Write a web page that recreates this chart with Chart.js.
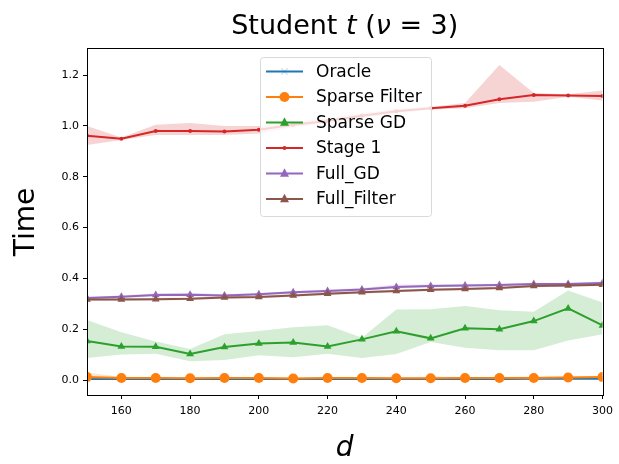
<!DOCTYPE html>
<html>
<head>
<meta charset="utf-8">
<script src="https://cdn.jsdelivr.net/npm/chart.js@4/dist/chart.umd.min.js"></script>
<style>
  html, body { margin: 0; padding: 0; background: #fff; }
  #wrap { width: 619px; height: 464px; }
</style>
</head>
<body>
<div id="wrap"><canvas id="timeChart" width="619" height="464"></canvas></div>
<script>
// x values (dimension d)
const dValues = [150, 160, 170, 180, 190, 200, 210, 220, 230, 240, 250, 260, 270, 280, 290, 300];
const xTicks = [160, 180, 200, 220, 240, 260, 280, 300];
const yTicks = [0.0, 0.2, 0.4, 0.6, 0.8, 1.0, 1.2];

// mean times and bands
const oracle   = [0.004, 0.004, 0.004, 0.004, 0.004, 0.004, 0.004, 0.004, 0.004, 0.004, 0.004, 0.004, 0.004, 0.005, 0.005, 0.005];
const oracleLo = [0.002, 0.002, 0.002, 0.002, 0.002, 0.002, 0.002, 0.002, 0.002, 0.002, 0.002, 0.002, 0.002, 0.003, 0.003, 0.003];
const oracleHi = [0.006, 0.006, 0.006, 0.006, 0.006, 0.006, 0.006, 0.006, 0.006, 0.006, 0.006, 0.006, 0.006, 0.007, 0.007, 0.007];

const sparseFilter   = [0.012, 0.008, 0.008, 0.007, 0.008, 0.008, 0.006, 0.008, 0.008, 0.007, 0.007, 0.008, 0.008, 0.008, 0.010, 0.012];
const sparseFilterLo = [0.004, 0.005, 0.005, 0.004, 0.005, 0.005, 0.004, 0.005, 0.005, 0.004, 0.004, 0.005, 0.005, 0.005, 0.006, 0.008];
const sparseFilterHi = [0.030, 0.012, 0.011, 0.010, 0.011, 0.011, 0.009, 0.011, 0.012, 0.010, 0.014, 0.012, 0.012, 0.014, 0.016, 0.016];

const sparseGD   = [0.154, 0.132, 0.131, 0.102, 0.130, 0.144, 0.148, 0.132, 0.160, 0.192, 0.164, 0.204, 0.200, 0.232, 0.282, 0.215];
const sparseGDLo = [0.087, 0.100, 0.103, 0.074, 0.079, 0.097, 0.090, 0.103, 0.087, 0.102, 0.150, 0.127, 0.117, 0.117, 0.156, 0.180];
const sparseGDHi = [0.236, 0.188, 0.152, 0.122, 0.180, 0.193, 0.208, 0.216, 0.166, 0.278, 0.279, 0.291, 0.275, 0.269, 0.352, 0.305];

const stage1   = [0.962, 0.950, 0.980, 0.980, 0.978, 0.985, 1.005, 1.020, 1.040, 1.058, 1.070, 1.080, 1.105, 1.122, 1.120, 1.118];
const stage1Lo = [0.925, 0.945, 0.965, 0.965, 0.965, 0.970, 0.995, 1.010, 1.030, 1.050, 1.065, 1.070, 1.090, 1.095, 1.115, 1.100];
const stage1Hi = [1.000, 0.955, 1.005, 1.012, 1.000, 1.000, 1.015, 1.030, 1.050, 1.068, 1.075, 1.090, 1.240, 1.130, 1.125, 1.140];

const fullGD   = [0.323, 0.328, 0.335, 0.336, 0.333, 0.338, 0.345, 0.350, 0.356, 0.366, 0.370, 0.372, 0.374, 0.378, 0.378, 0.382];
const fullGDLo = [0.318, 0.323, 0.330, 0.331, 0.328, 0.333, 0.340, 0.345, 0.351, 0.360, 0.365, 0.367, 0.369, 0.373, 0.373, 0.377];
const fullGDHi = [0.328, 0.333, 0.342, 0.344, 0.338, 0.343, 0.350, 0.356, 0.362, 0.376, 0.376, 0.378, 0.379, 0.383, 0.383, 0.388];

const fullFilter   = [0.317, 0.317, 0.318, 0.320, 0.325, 0.327, 0.333, 0.340, 0.345, 0.350, 0.355, 0.358, 0.362, 0.370, 0.372, 0.375];
const fullFilterLo = [0.312, 0.312, 0.313, 0.315, 0.320, 0.322, 0.328, 0.335, 0.340, 0.345, 0.350, 0.353, 0.357, 0.365, 0.367, 0.370];
const fullFilterHi = [0.322, 0.322, 0.323, 0.325, 0.330, 0.332, 0.338, 0.345, 0.350, 0.355, 0.360, 0.363, 0.367, 0.375, 0.377, 0.380];

const seriesNames = ['Oracle', 'Sparse Filter', 'Sparse GD', 'Stage 1', 'Full_GD', 'Full_Filter'];

const FONT = "'DejaVu Sans', sans-serif";

function toPoints(ys) {
    return ys.map((y, i) => ({ x: dValues[i], y: y }));
}

// series config: colour, marker
const seriesDefs = [
    { name: seriesNames[0], mean: oracle, lo: oracleLo, hi: oracleHi, color: '#1f77b4', band: 'rgba(31,119,180,0.2)', pointStyle: 'crossRot', radius: 4, pointColor: 'rgba(31,119,180,0.25)' },
    { name: seriesNames[1], mean: sparseFilter, lo: sparseFilterLo, hi: sparseFilterHi, color: '#ff7f0e', band: 'rgba(255,127,14,0.2)', pointStyle: 'circle', radius: 5 },
    { name: seriesNames[2], mean: sparseGD, lo: sparseGDLo, hi: sparseGDHi, color: '#2ca02c', band: 'rgba(44,160,44,0.2)', pointStyle: 'triangle', radius: 4.5 },
    { name: seriesNames[3], mean: stage1, lo: stage1Lo, hi: stage1Hi, color: '#d62728', band: 'rgba(214,39,40,0.2)', pointStyle: 'circle', radius: 2 },
    { name: seriesNames[4], mean: fullGD, lo: fullGDLo, hi: fullGDHi, color: '#9467bd', band: 'rgba(148,103,189,0.2)', pointStyle: 'triangle', radius: 4.5 },
    { name: seriesNames[5], mean: fullFilter, lo: fullFilterLo, hi: fullFilterHi, color: '#8c564b', band: 'rgba(140,86,75,0.2)', pointStyle: 'triangle', radius: 4.5 }
];

// build datasets: lower band, upper band (filled to lower), then mean line
const datasets = [];
let layer = 100;
seriesDefs.forEach(s => {
    datasets.push({
        label: s.name + ' lo',
        data: toPoints(s.lo),
        borderWidth: 0,
        pointRadius: 0,
        fill: false,
        order: layer--
    });
    datasets.push({
        label: s.name + ' hi',
        data: toPoints(s.hi),
        borderWidth: 0,
        pointRadius: 0,
        backgroundColor: s.band,
        fill: '-1',
        order: layer--
    });
    datasets.push({
        label: s.name,
        data: toPoints(s.mean),
        borderColor: s.color,
        backgroundColor: s.pointColor || s.color,
        pointBorderColor: s.pointColor || s.color,
        pointStyle: s.pointStyle,
        pointRadius: s.radius,
        pointBorderWidth: s.pointStyle === 'crossRot' ? 1.2 : 0,
        borderWidth: 2,
        fill: false,
        order: layer--
    });
});

function drawMarker(ctx, style, r, x, y) {
    ctx.beginPath();
    if (style === 'circle') {
        ctx.arc(x, y, r, 0, Math.PI * 2);
        ctx.fill();
    } else if (style === 'triangle') {
        ctx.moveTo(x, y - r * 1.15);
        ctx.lineTo(x + r * 1.0, y + r * 0.7);
        ctx.lineTo(x - r * 1.0, y + r * 0.7);
        ctx.closePath();
        ctx.fill();
    } else if (style === 'crossRot') {
        ctx.moveTo(x - r * 0.8, y - r * 0.8);
        ctx.lineTo(x + r * 0.8, y + r * 0.8);
        ctx.moveTo(x + r * 0.8, y - r * 0.8);
        ctx.lineTo(x - r * 0.8, y + r * 0.8);
        ctx.stroke();
    }
}

// draws title, axis labels, frame and the legend inside the plot
const decorPlugin = {
    id: 'decor',
    afterDraw(chart) {
        const ctx = chart.ctx;
        const area = chart.chartArea;
        ctx.save();

        // frame
        ctx.strokeStyle = '#000';
        ctx.lineWidth = 1;
        ctx.strokeRect(Math.round(area.left) + 0.5, Math.round(area.top) + 0.5,
            Math.round(area.right - area.left), Math.round(area.bottom - area.top));

        // title with italic parts
        const parts = [
            { t: 'Student ', it: false },
            { t: 't', it: true },
            { t: ' (', it: false },
            { t: 'ν', it: true },
            { t: ' = 3)', it: false }
        ];
        const size = 27;
        let total = 0;
        parts.forEach(p => {
            ctx.font = (p.it ? 'italic ' : '') + size + 'px ' + FONT;
            p.w = ctx.measureText(p.t).width;
            total += p.w;
        });
        let x = (area.left + area.right) / 2 - total / 2;
        ctx.fillStyle = '#000';
        ctx.textBaseline = 'alphabetic';
        ctx.textAlign = 'left';
        parts.forEach(p => {
            ctx.font = (p.it ? 'italic ' : '') + size + 'px ' + FONT;
            ctx.fillText(p.t, x, 34);
            x += p.w;
        });

        // x label
        ctx.font = 'italic 28px ' + FONT;
        ctx.textAlign = 'center';
        ctx.fillText('d', (area.left + area.right) / 2, 456);

        // y label
        ctx.save();
        ctx.translate(34, 222);
        ctx.rotate(-Math.PI / 2);
        ctx.font = '28px ' + FONT;
        ctx.textAlign = 'center';
        ctx.fillText('Time', 0, 0);
        ctx.restore();

        // legend box
        const bx = 260.5, by = 57.5, bw = 171, bh = 159;
        ctx.fillStyle = 'rgba(255,255,255,0.8)';
        ctx.strokeStyle = '#d9d9d9';
        ctx.lineWidth = 1;
        ctx.beginPath();
        ctx.roundRect(bx, by, bw, bh, 3);
        ctx.fill();
        ctx.stroke();

        const rowY = [71.5, 97, 122.5, 148, 173.5, 199];
        seriesDefs.forEach((s, i) => {
            const y = rowY[i];
            ctx.strokeStyle = s.color;
            ctx.lineWidth = 2;
            ctx.beginPath();
            ctx.moveTo(266, y);
            ctx.lineTo(303, y);
            ctx.stroke();
            ctx.fillStyle = s.pointColor || s.color;
            ctx.strokeStyle = s.pointColor || s.color;
            ctx.lineWidth = 1.2;
            drawMarker(ctx, s.pointStyle, s.radius, 284.5, y);
            ctx.fillStyle = '#000';
            ctx.font = '17px ' + FONT;
            ctx.textAlign = 'left';
            ctx.textBaseline = 'middle';
            ctx.fillText(s.name, 316, y + 1);
        });
        ctx.restore();
    }
};

const chart = new Chart(document.getElementById('timeChart'), {
    type: 'line',
    data: { datasets: datasets },
    options: {
        responsive: false,
        animation: false,
        events: [],
        layout: { padding: { top: 48, right: 15, bottom: 0, left: 0 } },
        plugins: {
            legend: { display: false },
            title: { display: false },
            tooltip: { enabled: false }
        },
        scales: {
            x: {
                type: 'linear',
                min: 150,
                max: 300,
                afterFit(scale) { scale.height = 69; },
                afterBuildTicks(scale) { scale.ticks = xTicks.map(v => ({ value: v })); },
                grid: { drawOnChartArea: false, tickLength: 4, color: '#000' },
                border: { display: true, color: '#000', width: 1 },
                ticks: {
                    color: '#000',
                    font: { family: FONT, size: 11 },
                    padding: 6,
                    maxRotation: 0,
                    callback: v => String(v)
                }
            },
            y: {
                type: 'linear',
                min: -0.059,
                max: 1.307,
                afterFit(scale) { scale.width = 87; },
                afterBuildTicks(scale) { scale.ticks = yTicks.map(v => ({ value: v })); },
                grid: { drawOnChartArea: false, tickLength: 4, color: '#000' },
                border: { display: true, color: '#000', width: 1 },
                ticks: {
                    color: '#000',
                    font: { family: FONT, size: 11 },
                    padding: 4,
                    callback: v => v.toFixed(1)
                }
            }
        }
    },
    plugins: [decorPlugin]
});
</script>
</body>
</html>
